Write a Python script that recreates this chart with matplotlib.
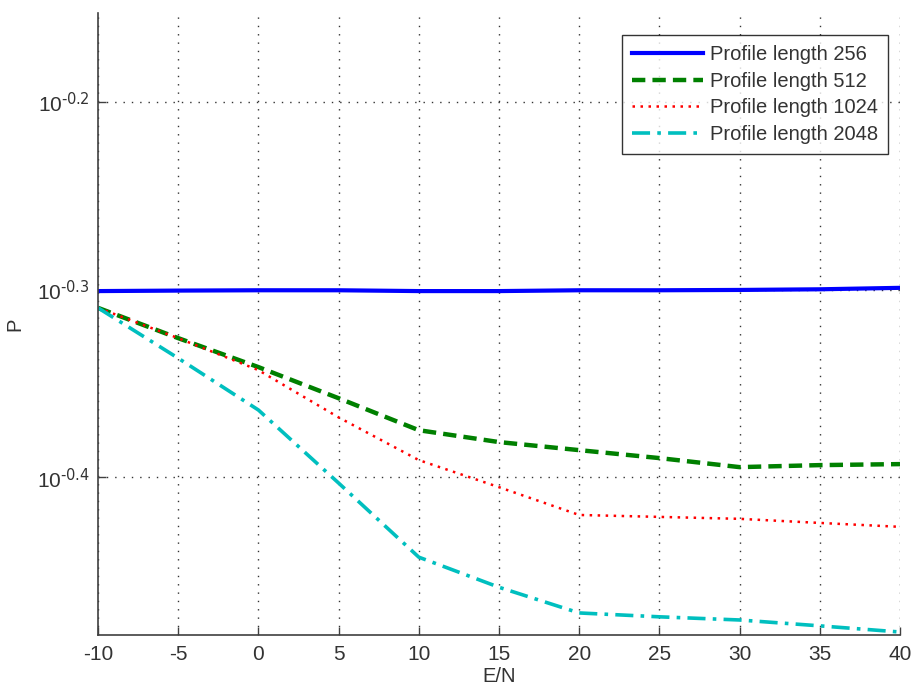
import numpy as np
import matplotlib
matplotlib.use("Agg")
import matplotlib.pyplot as plt
from matplotlib.ticker import FixedLocator, NullLocator

plt.rcParams['font.family'] = ['Liberation Sans', 'DejaVu Sans']
plt.rcParams['mathtext.default'] = 'regular'
plt.rcParams['axes.unicode_minus'] = False

en = [-10, -5, 0, 5, 10, 15, 20, 25, 30, 35, 40]
p256 = [0.5005, 0.5008, 0.5010, 0.5010, 0.5005, 0.5005, 0.5010, 0.5010, 0.5012, 0.5016, 0.5025]
p512 = [0.4903, 0.4724, 0.4559, 0.4388, 0.4219, 0.4158, 0.4117, 0.4077, 0.4032, 0.4042, 0.4047]
p1024 = [0.4903, 0.4724, 0.4542, 0.4286, 0.4067, 0.3934, 0.3802, 0.3793, 0.3784, 0.3765, 0.3747]
p2048 = [0.4903, 0.4609, 0.4325, 0.3954, 0.3610, 0.3479, 0.3371, 0.3355, 0.3342, 0.3318, 0.3293]
labels = ["Profile length 256", "Profile length 512", "Profile length 1024", "Profile length 2048"]
yticks = [10**-0.4, 10**-0.3, 10**-0.2]
ytick_labels = [r"$10^{\text{-0.4}}$", r"$10^{\text{-0.3}}$", r"$10^{\text{-0.2}}$"]

fig = plt.figure(figsize=(9.12, 6.91), dpi=100)
ax = fig.add_axes([98/912, 1-635/691, 802/912, 622/691])

ax.plot(en, p256, color="#0000ff", lw=3.0, ls="-", label=labels[0])
ax.plot(en, p512, color="#008000", lw=3.2, ls=(0, (3, 1.6)), label=labels[1])
ax.plot(en, p1024, color="#ff0000", lw=1.8, ls=(0, (1, 2.2)), label=labels[2])
ax.plot(en, p2048, color="#00bfbf", lw=2.6, ls=(0, (5, 2, 1, 2)), label=labels[3])

ax.set_yscale("log")
ax.set_xlim(-10, 40)
ax.set_ylim(10**-0.484, 10**-0.1523)
ax.set_xticks(range(-10, 41, 5))
ax.yaxis.set_major_locator(FixedLocator(yticks))
ax.yaxis.set_minor_locator(NullLocator())
ax.set_yticklabels(ytick_labels)

for s in ["top", "right"]:
    ax.spines[s].set_visible(False)
for s in ["left", "bottom"]:
    ax.spines[s].set_color("#404040")
    ax.spines[s].set_linewidth(1.2)

ax.tick_params(direction="in", length=6, width=1, colors="#404040", labelsize=15)
ax.tick_params(axis="x", pad=7)
ax.tick_params(axis="y", pad=6, labelsize=15)
ax.tick_params(axis="both", labelcolor="#333333")
ax.grid(True, which="major", color="#333333", ls=(0, (1, 5)), lw=1.0)

ax.set_xlabel("E/N", fontsize=14.5, color="#333333", labelpad=2)
ax.set_ylabel("P", fontsize=14.5, color="#333333", labelpad=9)

leg = ax.legend(loc="upper right", bbox_to_anchor=(888/912, 1-35/691), bbox_transform=fig.transFigure,
                fontsize=14.5, frameon=True, fancybox=False, handlelength=3.5,
                labelspacing=0.38, borderpad=0.5, handletextpad=0.35, borderaxespad=0)
leg.get_frame().set_edgecolor("black")
leg.get_frame().set_linewidth(1.0)
for t in leg.get_texts():
    t.set_color("#333333")

fig.savefig("out.png", dpi=100)
